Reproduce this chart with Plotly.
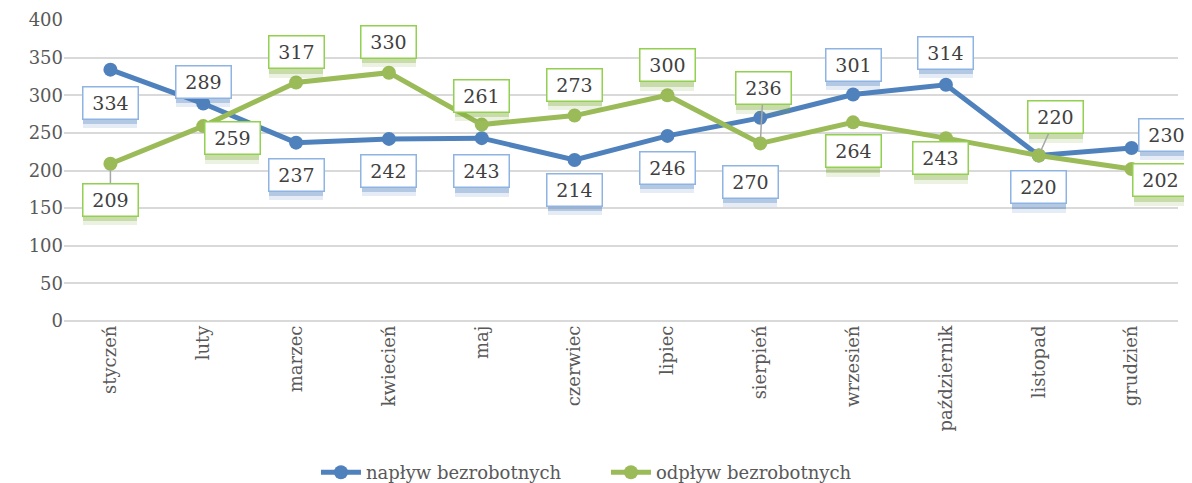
import plotly.graph_objects as go

months = ["styczeń", "luty", "marzec", "kwiecień", "maj", "czerwiec", "lipiec",
          "sierpień", "wrzesień", "październik", "listopad", "grudzień"]
naplyw = [334, 289, 237, 242, 243, 214, 246, 270, 301, 314, 220, 230]
odplyw = [209, 259, 317, 330, 261, 273, 300, 236, 264, 243, 220, 202]
y_ticks = [0, 50, 100, 150, 200, 250, 300, 350, 400]

# label placement (pixel offsets of label box centre from the point) and leader flags
blue_off = [(0, 33), (0, -22), (0, 32), (0, 32), (0, 33), (0, 30), (0, 32),
            (-10, 64), (0, -30), (0, -32), (0, 32), (35, -13)]
blue_lead = [False] * 12
green_off = [(0, 36), (29, 12), (0, -30), (0, -31), (0, -29), (0, -31), (0, -30),
             (3, -55), (0, 29), (-5, 20), (17, -38), (29, 11)]
green_lead = [True, False, False, False, False, False, False, True, False, False, True, False]

BLUE = "#4F81BD"
GREEN = "#9BBB59"
FONT = "DejaVu Serif"

fig = go.Figure()
fig.add_trace(go.Scatter(x=months, y=naplyw, name="napływ bezrobotnych", mode="lines+markers",
                         line=dict(color=BLUE, width=5), marker=dict(size=14, color=BLUE)))
fig.add_trace(go.Scatter(x=months, y=odplyw, name="odpływ bezrobotnych", mode="lines+markers",
                         line=dict(color=GREEN, width=5), marker=dict(size=14, color=GREEN)))

annotations = []
def add_labels(vals, offs, leads, border, shadow_rgb):
    for shift, alpha in ((10, 0.15), (6, 0.33)):
        for m, v, (dx, dy), lead in zip(months, vals, offs, leads):
            annotations.append(dict(
                x=m, y=v, xref="x", yref="y", ax=dx, ay=dy + shift, axref="pixel", ayref="pixel",
                text=" ", showarrow=True, arrowcolor="rgba(0,0,0,0)", arrowwidth=1,
                width=46, height=23, borderpad=4, bgcolor=f"rgba({shadow_rgb},{alpha})",
                borderwidth=0, font=dict(size=19, family=FONT)))
    for m, v, (dx, dy), lead in zip(months, vals, offs, leads):
        annotations.append(dict(
            x=m, y=v, xref="x", yref="y", ax=dx, ay=dy, axref="pixel", ayref="pixel",
            text=str(v), showarrow=True, arrowhead=0, standoff=6,
            arrowcolor="#A6A6A6" if lead else "rgba(0,0,0,0)", arrowwidth=1.5,
            width=46, height=23, borderpad=4, bgcolor="white", bordercolor=border, borderwidth=1.5,
            font=dict(size=19, family=FONT, color="#404040")))

add_labels(naplyw, blue_off, blue_lead, "#8EB4E3", "79,129,189")
add_labels(odplyw, green_off, green_lead, "#92D050", "130,170,60")

fig.update_layout(
    width=1184, height=475,
    margin=dict(l=56, r=14, t=12, b=162, autoexpand=False),
    plot_bgcolor="white", paper_bgcolor="white",
    font=dict(family=FONT, size=18, color="#595959"),
    annotations=annotations,
    showlegend=True,
    legend=dict(orientation="h", x=0.4865, xanchor="center", y=0.022, yref="container",
                yanchor="middle", entrywidth=235, entrywidthmode="pixels",
                font=dict(size=18, family=FONT, color="#595959"), itemwidth=40,
                traceorder="normal"),
    xaxis=dict(type="category", range=[-0.5, 11.5], tickangle=-90, showgrid=False,
               automargin=False, showline=False, ticks="",
               tickfont=dict(size=18, family=FONT, color="#595959")),
    yaxis=dict(range=[0, 400], tickvals=y_ticks, showgrid=True, gridcolor="#D9D9D9",
               automargin=False, gridwidth=1.5, zeroline=True, zerolinecolor="#D9D9D9",
               zerolinewidth=1.5, showline=False, ticks="",
               tickfont=dict(size=18, family=FONT, color="#595959")),
)

fig.write_html("out.html")
